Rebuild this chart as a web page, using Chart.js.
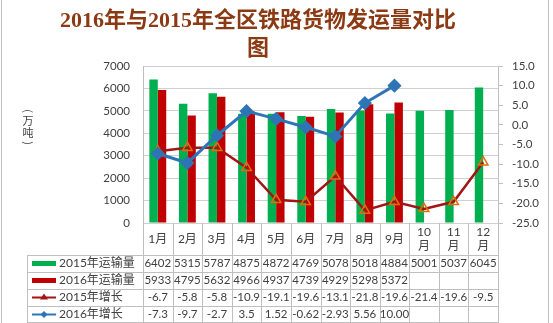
<!DOCTYPE html>
<html>
<head>
<meta charset="utf-8">
<title>2016年与2015年全区铁路货物发运量对比图</title>
<script src="https://cdn.jsdelivr.net/npm/chart.js@4.4.1/dist/chart.umd.min.js"></script>
<style>
  body { margin: 0; background: #fff; }
  canvas { display: block; }
</style>
</head>
<body>
<canvas id="freightChart" width="553" height="323"></canvas>
<script>
// data
const months = ['1月', '2月', '3月', '4月', '5月', '6月', '7月', '8月', '9月', '10月', '11月', '12月'];
const volume2015 = [6402, 5315, 5787, 4875, 4872, 4769, 5078, 5018, 4884, 5001, 5037, 6045];
const volume2016 = [5933, 4795, 5632, 4966, 4937, 4739, 4929, 5298, 5372, null, null, null];
const growth2015 = ['-6.7', '-5.8', '-5.8', '-10.9', '-19.1', '-19.6', '-13.1', '-21.8', '-19.6', '-21.4', '-19.6', '-9.5'];
// kept as text so the table shows them the way the source wrote them
const growth2016 = ['-7.3', '-9.7', '-2.7', '3.5', '1.52', '-0.62', '-2.93', '5.56', '10.00', null, null, null];
const volumeTicks = { min: 0, max: 7000, step: 1000 };
const growthTicks = { min: -25, max: 15, step: 5 };

const toNum = v => (v == null ? null : Number(v));

const GREEN = '#00B050';
const RED = '#C00000';
const LINE_RED = '#A31515';
const BLUE = '#2E75B6';
const GRID = '#D0D0D0';
const TEXT = '#404040';
const FONT = "Lato, 'Noto Sans CJK SC', sans-serif";

const tablePlugin = {
  id: 'dataTable',
  afterDraw(chart) {
    const ctx = chart.ctx;
    const area = chart.chartArea;
    const xScale = chart.scales.x;
    const colW = (area.right - area.left) / months.length;
    const rowTop = area.bottom + 32;
    const rowH = 17;
    const legendLeft = 27;
    const bottom = rowTop + rowH * 4;

    ctx.save();

    // outer frame
    ctx.strokeStyle = '#BFBFBF';
    ctx.lineWidth = 1;
    ctx.beginPath();
    ctx.moveTo(1.5, 0); ctx.lineTo(1.5, 323);
    ctx.moveTo(548.5, 0); ctx.lineTo(548.5, 323);
    ctx.stroke();

    // title
    ctx.fillStyle = '#8B3A13';
    ctx.font = "bold 22px 'Liberation Serif', 'Noto Sans CJK SC', serif";
    ctx.textAlign = 'center';
    ctx.textBaseline = 'middle';
    ctx.fillText('2016年与2015年全区铁路货物发运量对比', 258, 21);
    ctx.fillText('图', 258, 49);

    // unit, written upright with the brackets turned
    ctx.fillStyle = TEXT;
    ctx.font = "11px 'Noto Sans CJK SC', sans-serif";
    ctx.fillText('万', 28, 121);
    ctx.fillText('吨', 28, 133);
    [['(', 111], [')', 143]].forEach(([p, y]) => {
      ctx.save();
      ctx.translate(28, y);
      ctx.rotate(Math.PI / 2);
      ctx.fillText(p, 0, 0);
      ctx.restore();
    });

    // table grid
    ctx.strokeStyle = '#BFBFBF';
    ctx.beginPath();
    for (let i = 0; i <= months.length; i++) {
      const x = Math.round(area.left + i * colW) + 0.5;
      ctx.moveTo(x, area.bottom);
      ctx.lineTo(x, bottom);
    }
    ctx.moveTo(legendLeft + 0.5, rowTop);
    ctx.lineTo(legendLeft + 0.5, bottom);
    for (let r = 0; r <= 4; r++) {
      const y = Math.min(Math.round(rowTop + r * rowH) + 0.5, 322.5);
      ctx.moveTo(legendLeft, y);
      ctx.lineTo(area.right, y);
    }
    ctx.stroke();

    // header row: months
    ctx.fillStyle = TEXT;
    ctx.font = '12px ' + FONT;
    months.forEach((m, i) => {
      const cx = xScale.getPixelForValue(i);
      if (m.length > 2) {
        ctx.fillText(m.slice(0, -1), cx, area.bottom + 9);
        ctx.fillText('月', cx, area.bottom + 23);
      } else {
        ctx.fillText(m, cx, area.bottom + 16);
      }
    });

    // legend keys and values
    const rows = [volume2015, volume2016, growth2015, growth2016];
    chart.data.datasets.forEach((ds, r) => {
      const cy = rowTop + r * rowH + rowH / 2;
      if (ds.type === 'line') {
        ctx.strokeStyle = ds.borderColor;
        ctx.lineWidth = 2;
        ctx.beginPath();
        ctx.moveTo(32, cy); ctx.lineTo(56, cy);
        ctx.stroke();
        ctx.fillStyle = ds.borderColor;
        ctx.beginPath();
        if (ds.pointStyle === 'triangle') {
          ctx.moveTo(44, cy - 4); ctx.lineTo(48, cy + 2); ctx.lineTo(40, cy + 2);
        } else {
          ctx.moveTo(44, cy - 3.5); ctx.lineTo(47.5, cy); ctx.lineTo(44, cy + 3.5); ctx.lineTo(40.5, cy);
        }
        ctx.closePath();
        ctx.fill();
      } else {
        ctx.fillStyle = ds.backgroundColor;
        ctx.fillRect(32, cy - 2.5, 24, 5);
      }
      ctx.fillStyle = TEXT;
      ctx.textAlign = 'left';
      ctx.font = '12px ' + FONT;
      ctx.fillText(ds.label, 59, cy);

      ctx.textAlign = 'center';
      ctx.font = '11.5px ' + FONT;
      rows[r].forEach((v, i) => {
        if (v == null) return;
        ctx.fillText(String(v), xScale.getPixelForValue(i), cy);
      });
    });

    ctx.restore();
  }
};

const ctx = document.getElementById('freightChart').getContext('2d');

new Chart(ctx, {
  type: 'bar',
  data: {
    labels: months,
    datasets: [
      {
        label: '2015年运输量',
        data: volume2015,
        backgroundColor: GREEN,
        yAxisID: 'y',
        order: 2,
        categoryPercentage: 0.57,
        barPercentage: 1.0,
      },
      {
        label: '2016年运输量',
        data: volume2016,
        backgroundColor: RED,
        yAxisID: 'y',
        order: 2,
        categoryPercentage: 0.57,
        barPercentage: 1.0,
      },
      {
        type: 'line',
        label: '2015年增长',
        data: growth2015.map(toNum),
        borderColor: LINE_RED,
        borderWidth: 2.5,
        pointStyle: 'triangle',
        pointRadius: 5.5,
        pointBackgroundColor: 'rgba(255,255,255,0)',
        pointBorderColor: '#E36C09',
        pointBorderWidth: 1.5,
        tension: 0,
        yAxisID: 'y1',
        order: 1,
      },
      {
        type: 'line',
        label: '2016年增长',
        data: growth2016.map(toNum),
        borderColor: BLUE,
        borderWidth: 3,
        pointStyle: 'rectRot',
        pointRadius: 5,
        pointBackgroundColor: BLUE,
        pointBorderColor: BLUE,
        tension: 0,
        yAxisID: 'y1',
        order: 0,
      },
    ],
  },
  options: {
    responsive: false,
    animation: false,
    layout: {
      padding: { top: 66, bottom: 100, left: 0, right: 0 },
    },
    plugins: {
      legend: { display: false },
      title: { display: false },
      tooltip: { enabled: false },
    },
    scales: {
      x: {
        display: false,
      },
      y: {
        position: 'left',
        min: volumeTicks.min,
        max: volumeTicks.max,
        ticks: {
          stepSize: volumeTicks.step,
          padding: 13,
          color: TEXT,
          font: { family: FONT, size: 11.5 },
          callback: v => String(v),
        },
        grid: { color: GRID, drawTicks: false },
        border: { display: true, color: '#BFBFBF' },
        afterFit(scale) { scale.width = 143; },
      },
      y1: {
        position: 'right',
        min: growthTicks.min,
        max: growthTicks.max,
        ticks: {
          stepSize: growthTicks.step,
          padding: 9,
          color: TEXT,
          font: { family: FONT, size: 11.5 },
          callback: v => v.toFixed(1),
        },
        grid: { drawOnChartArea: false, drawTicks: true, tickLength: 5, color: '#BFBFBF' },
        border: { display: true, color: '#BFBFBF' },
        afterFit(scale) { scale.width = 55; },
      },
    },
  },
  plugins: [tablePlugin],
});
</script>
</body>
</html>
